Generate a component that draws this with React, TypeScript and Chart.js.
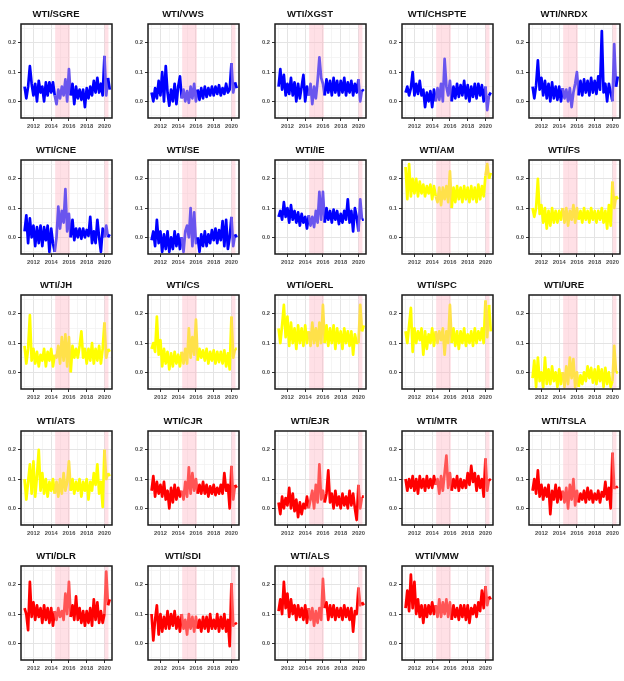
import React, { useEffect, useRef } from "react";
import { Chart, registerables } from "chart.js";
Chart.register(...registerables);

const times = [
  2011.0, 2011.2, 2011.4, 2011.6, 2011.8,
  2012.0, 2012.2, 2012.4, 2012.6, 2012.8,
  2013.0, 2013.2, 2013.4, 2013.6, 2013.8,
  2014.0, 2014.2, 2014.4, 2014.6, 2014.8,
  2015.0, 2015.2, 2015.4, 2015.6, 2015.8,
  2016.0, 2016.2, 2016.4, 2016.6, 2016.8,
  2017.0, 2017.2, 2017.4, 2017.6, 2017.8,
  2018.0, 2018.2, 2018.4, 2018.6, 2018.8,
  2019.0, 2019.2, 2019.4, 2019.6, 2019.8,
  2020.0, 2020.2, 2020.4, 2020.6,
];

const sgre = [0.05, 0.01, 0.05, 0.12, 0.06, 0.02, 0.06, 0.0, 0.07, 0.03, 0.05, 0.0, 0.065, 0.02, 0.065, 0.03, 0.065, 0.02, -0.01, 0.04, 0.01, 0.05, 0.02, 0.075, 0.0, 0.11, 0.02, 0.06, -0.01, 0.05, 0.01, 0.04, 0.005, 0.04, -0.02, 0.045, 0.01, 0.05, 0.02, 0.07, 0.03, 0.08, 0.03, 0.06, 0.02, 0.155, 0.02, 0.08, 0.04];
const vws = [0.03, 0.0, 0.045, 0.01, 0.07, 0.02, 0.1, 0.0, 0.12, 0.03, -0.015, 0.04, 0.0, 0.06, -0.01, 0.05, 0.085, 0.01, 0.04, 0.0, 0.035, -0.005, 0.05, 0.01, 0.06, 0.0, 0.04, 0.005, 0.045, 0.01, 0.05, 0.015, 0.045, 0.02, 0.05, 0.02, 0.05, 0.025, 0.055, 0.02, 0.045, 0.025, 0.06, 0.03, 0.04, 0.13, 0.03, 0.065, 0.045];
const xgst = [0.05, 0.11, 0.04, 0.09, 0.02, 0.06, 0.025, 0.08, 0.02, 0.065, 0.0, 0.06, 0.01, 0.05, 0.09, 0.0, 0.05, 0.02, 0.06, -0.01, 0.05, 0.01, 0.07, 0.15, 0.08, 0.06, 0.02, 0.075, 0.03, 0.07, 0.02, 0.08, 0.03, 0.07, 0.02, 0.07, 0.03, 0.08, 0.02, 0.065, 0.03, 0.07, 0.02, 0.06, 0.03, 0.075, 0.0, 0.04, 0.035];
const chspte = [0.03, 0.05, 0.02, 0.045, 0.1, 0.02, 0.06, 0.025, 0.07, 0.02, 0.04, -0.02, 0.03, 0.0, 0.035, -0.02, 0.04, 0.0, 0.045, 0.005, 0.06, 0.0, 0.145, 0.05, 0.02, 0.07, 0.0, 0.05, 0.01, 0.06, 0.015, 0.055, 0.02, 0.07, 0.01, 0.055, 0.0, 0.05, 0.015, 0.06, 0.01, 0.06, 0.02, 0.055, 0.0, 0.05, -0.03, 0.02, 0.03];
const nrdx = [0.05, 0.01, 0.055, 0.14, 0.04, 0.08, 0.02, 0.07, 0.01, 0.06, 0.0, 0.065, 0.01, 0.05, 0.005, 0.05, 0.0, 0.045, 0.01, 0.04, 0.0, 0.045, -0.02, 0.03, 0.06, 0.1, 0.02, 0.07, 0.02, 0.075, 0.03, 0.07, 0.02, 0.08, 0.03, 0.07, 0.025, 0.085, 0.04, 0.24, 0.03, 0.06, 0.0, 0.06, 0.03, 0.0, 0.195, 0.05, 0.085];
const cne = [0.02, 0.075, -0.02, 0.065, 0.0, 0.04, -0.03, 0.035, -0.02, 0.04, -0.03, 0.035, -0.01, 0.04, -0.05, 0.03, -0.02, -0.05, 0.0, 0.105, 0.03, 0.09, 0.05, 0.165, 0.02, 0.08, 0.0, 0.06, -0.01, 0.03, 0.0, 0.03, -0.005, 0.03, 0.0, 0.025, 0.005, 0.07, -0.02, 0.02, -0.02, 0.06, 0.0, -0.05, 0.03, 0.0, 0.04, 0.0, 0.01];
const se = [-0.01, 0.02, -0.03, 0.06, -0.02, 0.02, -0.05, 0.01, -0.04, 0.02, -0.05, 0.0, -0.04, 0.02, -0.03, 0.01, -0.04, 0.0, -0.05, 0.02, 0.04, 0.0, 0.1, -0.03, 0.085, -0.02, 0.0, -0.05, 0.01, -0.03, 0.02, -0.03, 0.01, -0.02, 0.025, -0.01, 0.03, -0.02, 0.025, -0.01, 0.055, -0.03, 0.06, -0.04, 0.0, 0.07, -0.03, 0.01, 0.0];
const ie = [0.07, 0.09, 0.06, 0.12, 0.07, 0.1, 0.05, 0.11, 0.06, 0.09, 0.05, 0.085, 0.04, 0.08, 0.05, 0.07, 0.03, 0.075, 0.04, 0.07, 0.035, 0.09, 0.05, 0.155, 0.06, 0.155, 0.05, 0.1, 0.06, 0.09, 0.05, 0.095, 0.06, 0.09, 0.045, 0.08, 0.05, 0.09, 0.06, 0.13, 0.05, 0.09, 0.02, 0.1, 0.07, 0.02, 0.13, 0.06, 0.06];
const am = [0.24, 0.13, 0.25, 0.14, 0.2, 0.15, 0.2, 0.14, 0.19, 0.15, 0.18, 0.14, 0.175, 0.15, 0.18, 0.13, 0.175, 0.14, 0.12, 0.17, 0.11, 0.17, 0.13, 0.175, 0.12, 0.225, 0.1, 0.17, 0.12, 0.175, 0.13, 0.17, 0.12, 0.175, 0.13, 0.17, 0.12, 0.175, 0.13, 0.17, 0.12, 0.18, 0.13, 0.175, 0.14, 0.21, 0.25, 0.2, 0.22];
const fs = [0.1, 0.07, 0.1, 0.2, 0.08, 0.11, 0.05, 0.1, 0.03, 0.09, 0.04, 0.1, 0.05, 0.09, 0.05, 0.09, 0.06, 0.1, 0.05, 0.1, 0.04, 0.09, 0.06, 0.11, 0.05, 0.1, 0.06, 0.09, 0.05, 0.1, 0.06, 0.09, 0.05, 0.1, 0.06, 0.09, 0.05, 0.09, 0.06, 0.1, 0.05, 0.09, 0.03, 0.11, 0.04, 0.19, 0.1, 0.14, 0.13];
const jh = [0.09, 0.03, 0.08, 0.195, 0.04, 0.08, 0.03, 0.07, 0.02, 0.06, 0.04, 0.08, 0.02, 0.07, 0.04, 0.08, 0.02, 0.06, 0.05, 0.09, 0.03, 0.12, 0.04, 0.13, 0.02, 0.12, 0.0, 0.09, 0.05, 0.08, 0.05, 0.09, 0.14, 0.05, 0.08, 0.03, 0.08, 0.04, 0.1, 0.03, 0.08, 0.04, 0.09, 0.03, 0.08, 0.17, 0.05, 0.08, 0.07];
const cs = [0.08, 0.1, 0.07, 0.19, 0.06, 0.11, 0.02, 0.08, 0.03, 0.07, 0.01, 0.065, 0.02, 0.07, 0.03, 0.06, 0.02, 0.07, 0.03, 0.08, 0.03, 0.15, 0.05, 0.12, 0.06, 0.18, 0.04, 0.08, 0.05, 0.075, 0.04, 0.08, 0.03, 0.07, 0.04, 0.075, 0.03, 0.07, 0.035, 0.07, 0.03, 0.075, 0.02, 0.065, 0.01, 0.19, 0.05, 0.08, 0.08];
const oerl = [0.15, 0.1, 0.16, 0.23, 0.12, 0.19, 0.09, 0.17, 0.1, 0.15, 0.08, 0.16, 0.1, 0.15, 0.09, 0.16, 0.1, 0.14, 0.09, 0.17, 0.1, 0.15, 0.09, 0.17, 0.1, 0.23, 0.1, 0.16, 0.09, 0.15, 0.1, 0.16, 0.08, 0.15, 0.1, 0.14, 0.08, 0.15, 0.1, 0.14, 0.09, 0.14, 0.06, 0.13, 0.1, 0.1, 0.23, 0.14, 0.16];
const spc = [0.14, 0.1, 0.16, 0.22, 0.07, 0.15, 0.1, 0.14, 0.11, 0.15, 0.06, 0.14, 0.08, 0.13, 0.1, 0.15, 0.09, 0.14, 0.1, 0.14, 0.11, 0.15, 0.06, 0.14, 0.1, 0.23, 0.1, 0.15, 0.09, 0.14, 0.08, 0.14, 0.1, 0.15, 0.09, 0.13, 0.1, 0.14, 0.09, 0.15, 0.1, 0.14, 0.11, 0.15, 0.1, 0.245, 0.12, 0.23, 0.14];
const ure = [-0.02, 0.04, -0.05, 0.05, -0.03, 0.0, -0.05, 0.05, -0.04, 0.01, -0.04, 0.02, -0.03, 0.0, -0.05, 0.01, -0.04, 0.0, -0.05, 0.02, -0.04, 0.05, -0.02, 0.045, -0.05, 0.0, -0.05, -0.01, -0.04, 0.0, -0.03, 0.02, -0.02, 0.015, -0.035, 0.01, -0.04, 0.02, -0.03, 0.01, -0.05, 0.015, -0.04, 0.0, -0.05, -0.03, 0.09, 0.0, 0.0];
const ats = [0.1, 0.03, 0.09, 0.15, 0.05, 0.16, 0.04, 0.11, 0.2, 0.06, 0.12, 0.05, 0.1, 0.04, 0.09, 0.06, 0.1, 0.05, 0.09, 0.04, 0.1, 0.05, 0.12, 0.06, 0.09, 0.16, 0.06, 0.1, 0.05, 0.09, 0.06, 0.1, 0.04, 0.09, 0.06, 0.1, 0.03, 0.09, 0.06, 0.12, 0.08, 0.15, 0.05, 0.09, 0.005, 0.2, 0.1, 0.12, 0.11];
const cjr = [0.06, 0.11, 0.04, 0.09, 0.05, 0.08, 0.04, 0.09, 0.03, 0.06, 0.0, 0.07, 0.02, 0.08, 0.03, 0.07, 0.04, 0.06, 0.03, 0.09, 0.04, 0.14, 0.05, 0.12, 0.06, 0.1, 0.05, 0.08, 0.05, 0.09, 0.05, 0.08, 0.04, 0.075, 0.05, 0.08, 0.045, 0.07, 0.05, 0.08, 0.05, 0.12, 0.06, 0.08, 0.0, 0.145, 0.03, 0.08, 0.07];
const ejr = [0.02, -0.02, 0.04, 0.0, 0.035, 0.01, 0.07, 0.0, 0.05, -0.01, 0.03, -0.03, 0.02, -0.02, 0.015, 0.0, 0.04, 0.0, 0.03, 0.06, 0.0, 0.08, 0.02, 0.15, 0.03, 0.06, 0.02, 0.05, 0.13, 0.02, 0.05, 0.0, 0.06, 0.01, 0.04, 0.0, 0.05, 0.01, 0.04, 0.0, 0.06, 0.01, 0.05, 0.0, -0.04, 0.08, 0.0, 0.04, 0.04];
const mtr = [0.1, 0.06, 0.1, 0.07, 0.11, 0.06, 0.1, 0.05, 0.11, 0.07, 0.1, 0.06, 0.11, 0.07, 0.1, 0.07, 0.11, 0.08, 0.1, 0.05, 0.11, 0.06, 0.12, 0.18, 0.07, 0.12, 0.06, 0.1, 0.07, 0.11, 0.06, 0.1, 0.07, 0.095, 0.07, 0.12, 0.08, 0.145, 0.09, 0.12, 0.06, 0.11, 0.07, 0.1, 0.04, 0.17, 0.06, 0.1, 0.095];
const tsla = [0.06, 0.1, 0.05, 0.13, 0.04, 0.08, 0.03, 0.07, 0.04, 0.08, -0.02, 0.06, 0.03, 0.08, 0.02, 0.07, 0.03, 0.06, 0.02, 0.07, 0.0, 0.08, 0.03, 0.1, 0.01, 0.06, 0.02, 0.05, 0.03, 0.06, 0.02, 0.07, 0.03, 0.06, 0.02, 0.05, 0.03, 0.06, 0.02, 0.055, 0.04, 0.09, 0.03, 0.07, 0.0, 0.19, 0.07, 0.07, 0.075];
const dlr = [0.12, 0.1, 0.045, 0.21, 0.09, 0.14, 0.08, 0.13, 0.09, 0.12, 0.07, 0.13, 0.08, 0.12, 0.07, 0.12, 0.06, 0.11, 0.08, 0.12, 0.09, 0.11, 0.08, 0.17, 0.1, 0.21, 0.09, 0.13, 0.08, 0.16, 0.08, 0.12, 0.07, 0.11, 0.06, 0.11, 0.07, 0.12, 0.06, 0.15, 0.08, 0.14, 0.07, 0.11, 0.07, 0.1, 0.245, 0.13, 0.15];
const sdi = [0.1, 0.01, 0.08, 0.13, 0.03, 0.1, 0.04, 0.09, 0.05, 0.11, 0.05, 0.1, 0.06, 0.11, 0.05, 0.09, 0.04, 0.1, 0.05, 0.08, 0.03, 0.1, 0.05, 0.09, 0.04, 0.09, 0.05, 0.08, 0.04, 0.09, 0.05, 0.09, 0.04, 0.1, 0.05, 0.08, 0.05, 0.1, 0.04, 0.09, 0.05, 0.1, 0.04, 0.08, -0.01, 0.205, 0.06, 0.07, 0.065];
const als = [0.11, 0.15, 0.1, 0.21, 0.12, 0.17, 0.09, 0.15, 0.1, 0.13, 0.08, 0.13, 0.09, 0.12, 0.08, 0.13, 0.07, 0.12, 0.08, 0.12, 0.06, 0.11, 0.07, 0.12, 0.08, 0.22, 0.12, 0.14, 0.08, 0.13, 0.09, 0.13, 0.08, 0.12, 0.09, 0.12, 0.08, 0.13, 0.09, 0.12, 0.08, 0.12, 0.04, 0.11, 0.1, 0.19, 0.13, 0.14, 0.13];
const vmw = [0.12, 0.18, 0.11, 0.235, 0.12, 0.21, 0.1, 0.15, 0.09, 0.13, 0.07, 0.13, 0.09, 0.13, 0.1, 0.14, 0.1, 0.13, 0.09, 0.15, 0.09, 0.14, 0.1, 0.15, 0.09, 0.14, 0.08, 0.13, 0.09, 0.12, 0.08, 0.13, 0.09, 0.13, 0.08, 0.13, 0.07, 0.12, 0.1, 0.13, 0.09, 0.14, 0.11, 0.18, 0.12, 0.195, 0.13, 0.16, 0.15];

const titles = [
  "WTI/SGRE", "WTI/VWS", "WTI/XGST", "WTI/CHSPTE", "WTI/NRDX",
  "WTI/CNE", "WTI/SE", "WTI/IE", "WTI/AM", "WTI/FS",
  "WTI/JH", "WTI/CS", "WTI/OERL", "WTI/SPC", "WTI/URE",
  "WTI/ATS", "WTI/CJR", "WTI/EJR", "WTI/MTR", "WTI/TSLA",
  "WTI/DLR", "WTI/SDI", "WTI/ALS", "WTI/VMW",
];
const seriesList = [
  sgre, vws, xgst, chspte, nrdx,
  cne, se, ie, am, fs,
  jh, cs, oerl, spc, ure,
  ats, cjr, ejr, mtr, tsla,
  dlr, sdi, als, vmw,
];
const groups = [
  0, 0, 0, 0, 0,
  0, 0, 0, 1, 1,
  1, 1, 1, 1, 1,
  1, 2, 2, 2, 2,
  2, 2, 2, 2,
];
const bands = [
  [2014.45, 2016.1],
  [2020.0, 2020.45],
];
const yTickValues = [-0.05, 0, 0.05, 0.1, 0.15, 0.2, 0.25];
const xTickValues = [2011, 2012, 2013, 2014, 2015, 2016, 2017, 2018, 2019, 2020];

const PALETTE = [
  { base: "#0000ff", light: "#6a55ee" },
  { base: "#ffff00", light: "#ffe14a" },
  { base: "#ff0000", light: "#ff5555" },
];
const FONT = "'Liberation Sans', Arial, sans-serif";
const CW = 127;
const CH = 135;
const ROWP = 135.6;

const inBand = (x: number) => bands.some((b) => x >= b[0] && x <= b[1]);
const isMajorY = (v: number) => Math.abs(v * 10 - Math.round(v * 10)) < 1e-6;

const decorPlugin = {
  id: "decor",
  beforeDatasetsDraw(chart: any) {
    const { ctx, chartArea, scales } = chart;
    const x = scales.x;
    ctx.save();
    ctx.fillStyle = "rgba(255, 182, 195, 0.42)";
    for (const b of bands) {
      const x0 = x.getPixelForValue(b[0]);
      const x1 = x.getPixelForValue(b[1]);
      ctx.fillRect(x0, chartArea.top, x1 - x0, chartArea.bottom - chartArea.top);
    }
    ctx.restore();
  },
  afterDraw(chart: any) {
    const { ctx, chartArea } = chart;
    ctx.save();
    ctx.strokeStyle = "#1a1a1a";
    ctx.lineWidth = 1.5;
    ctx.strokeRect(chartArea.left, chartArea.top, chartArea.right - chartArea.left, chartArea.bottom - chartArea.top);
    ctx.restore();
  },
};

function Panel({ index }: { index: number }) {
  const ref = useRef<HTMLCanvasElement>(null);
  const col = index % 5;
  const row = Math.floor(index / 5);
  useEffect(() => {
    const values = seriesList[index];
    const pal = PALETTE[groups[index]];
    const chart = new Chart(ref.current as HTMLCanvasElement, {
      type: "line",
      data: {
        datasets: [
          {
            data: times.map((t, i) => ({ x: t, y: values[i] })),
            borderColor: pal.base,
            borderWidth: 2.7,
            pointRadius: 0,
            tension: 0,
            borderJoinStyle: "round",
            segment: {
              borderColor: (c: any) =>
                inBand((c.p0.parsed.x + c.p1.parsed.x) / 2) ? pal.light : pal.base,
            },
          } as any,
        ],
      },
      options: {
        responsive: false,
        maintainAspectRatio: false,
        animation: false,
        events: [],
        layout: { padding: { left: 0, right: 15, top: 0, bottom: 0 } },
        plugins: {
          legend: { display: false },
          tooltip: { enabled: false },
          title: {
            display: true,
            text: titles[index],
            color: "#111",
            font: { family: FONT, size: 9.5, weight: "bold" },
            padding: { top: 8.6, bottom: 4 },
          },
        },
        scales: {
          x: {
            type: "linear",
            min: 2010.6,
            max: 2020.85,
            afterBuildTicks: (s: any) => {
              s.ticks = xTickValues.map((v) => ({ value: v }));
            },
            afterFit: (s: any) => {
              s.height = 17;
            },
            border: { display: false },
            grid: {
              color: (c: any) => (c.tick && c.tick.value % 2 === 0 ? "#e4e4e4" : "#f1f1f1"),
              lineWidth: (c: any) => (c.tick && c.tick.value % 2 === 0 ? 1 : 0.7),
              tickLength: 3,
              tickColor: (c: any) => (c.tick && c.tick.value % 2 === 0 ? "#333" : "rgba(0,0,0,0)"),
            },
            ticks: {
              autoSkip: false,
              maxRotation: 0,
              minRotation: 0,
              padding: 1.5,
              color: "#4d4d4d",
              font: { family: FONT, size: 5.8, weight: "bold" },
              callback: (v: any) => (Number(v) % 2 === 0 ? String(v) : ""),
            },
          },
          y: {
            type: "linear",
            min: -0.057,
            max: 0.264,
            afterBuildTicks: (s: any) => {
              s.ticks = yTickValues.map((v) => ({ value: v }));
            },
            afterFit: (s: any) => {
              s.width = 21;
            },
            border: { display: false },
            grid: {
              color: (c: any) => (c.tick && isMajorY(c.tick.value) ? "#e4e4e4" : "#f1f1f1"),
              lineWidth: (c: any) => (c.tick && isMajorY(c.tick.value) ? 1 : 0.7),
              tickLength: 3,
              tickColor: (c: any) => (c.tick && isMajorY(c.tick.value) ? "#333" : "rgba(0,0,0,0)"),
            },
            ticks: {
              autoSkip: false,
              padding: 2,
              color: "#4d4d4d",
              font: { family: FONT, size: 5.8, weight: "bold" },
              callback: (v: any) => (isMajorY(Number(v)) ? Number(v).toFixed(1) : ""),
            },
          },
        },
      } as any,
      plugins: [decorPlugin],
    });
    return () => chart.destroy();
  }, [index]);
  return (
    <canvas
      ref={ref}
      width={CW}
      height={CH}
      style={{
        position: "absolute",
        left: col * CW,
        top: Math.round(row * ROWP),
        width: CW,
        height: CH,
      }}
    />
  );
}

export default function App() {
  return (
    <div
      style={{
        position: "absolute",
        left: 0,
        top: 0,
        width: 624,
        height: 681,
        background: "#ffffff",
        overflow: "hidden",
      }}
    >
      {titles.map((t, i) => (
        <Panel key={t} index={i} />
      ))}
    </div>
  );
}
